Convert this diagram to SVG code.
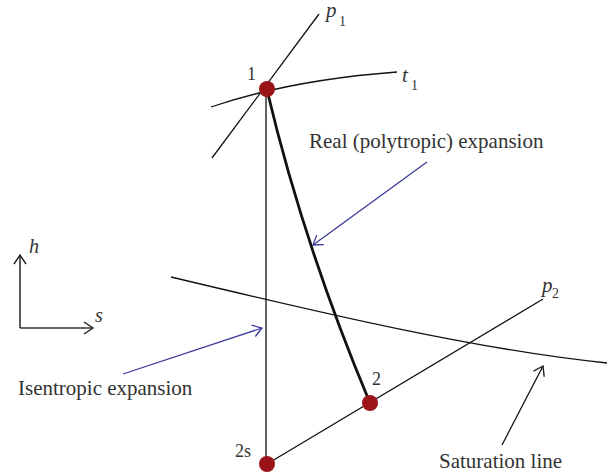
<svg xmlns="http://www.w3.org/2000/svg" width="609" height="476" viewBox="0 0 609 476">
<style>
.t{font-family:"Liberation Serif","Times New Roman",serif;fill:#333;}
.i{font-family:"Liberation Serif","Times New Roman",serif;font-style:italic;fill:#333;}
.ln{fill:none;stroke:#111;stroke-width:1.3;}
.bl{fill:none;stroke:#3b3a9c;stroke-width:1.3;}
.dot{fill:#9b1419;}
</style>
<defs>
<marker id="ab" markerUnits="userSpaceOnUse" markerWidth="20" markerHeight="20" refX="10" refY="10" orient="auto" viewBox="0 0 20 20">
<path d="M1,4 L10,10 L1,16" fill="none" stroke="#3b3a9c" stroke-width="1.3"/>
</marker>
<marker id="ak" markerUnits="userSpaceOnUse" markerWidth="20" markerHeight="20" refX="10" refY="10" orient="auto" viewBox="0 0 20 20">
<path d="M1,4 L10,10 L1,16" fill="none" stroke="#222" stroke-width="1.4"/>
</marker>
</defs>
<g id="axes">
<path d="M20,328 L20,255" fill="none" stroke="#333" stroke-width="1.6" marker-end="url(#ak)"/>
<path d="M20,328 L93,328" fill="none" stroke="#333" stroke-width="1.6" marker-end="url(#ak)"/>
<text class="i" x="29" y="253" font-size="20">h</text>
<text class="i" x="95" y="322" font-size="20">s</text>
</g>
<g id="connectors">
<path id="p1" class="ln" d="M212,158 L319,14"/>
<path id="t1" class="ln" d="M211,107 Q290,80 397,72"/>
<path id="isentropic" class="ln" d="M266,89 L266,464"/>
<path id="real" fill="none" stroke="#111" stroke-width="2.8" d="M267,90 Q304,246 370,403"/>
<path id="p2" class="ln" d="M267,464 L543,299"/>
<path id="saturation" class="ln" d="M171,277 C330,315 480,350 607,363"/>
<path class="bl" d="M427,162 L313,245" marker-end="url(#ab)"/>
<path class="bl" d="M123,374 L262,328" marker-end="url(#ab)"/>
<path fill="none" stroke="#111" stroke-width="1.3" d="M502,445 L543,366" marker-end="url(#ak)"/>
</g>
<g id="node1">
<circle class="dot" cx="267" cy="89" r="8"/>
<text class="t" x="247" y="80" font-size="18">1</text>
</g>
<g id="node2">
<circle class="dot" cx="370" cy="403" r="8"/>
<text class="t" x="372" y="385" font-size="18">2</text>
</g>
<g id="node2s">
<circle class="dot" cx="267" cy="464" r="8"/>
<text class="t" x="235" y="457" font-size="18">2s</text>
</g>
<g id="labels">
<text class="i" x="326" y="17" font-size="21">p</text>
<text class="t" x="339" y="26" font-size="14">1</text>
<text class="i" x="402" y="82" font-size="21">t</text>
<text class="t" x="411" y="90" font-size="14">1</text>
<text class="i" x="542" y="292" font-size="21">p</text>
<text class="t" x="552" y="298" font-size="14">2</text>
<text class="t" x="309" y="148" font-size="21">Real (polytropic) expansion</text>
<text class="t" x="18" y="395" font-size="21">Isentropic expansion</text>
<text class="t" x="439" y="468" font-size="21">Saturation line</text>
</g>
</svg>
